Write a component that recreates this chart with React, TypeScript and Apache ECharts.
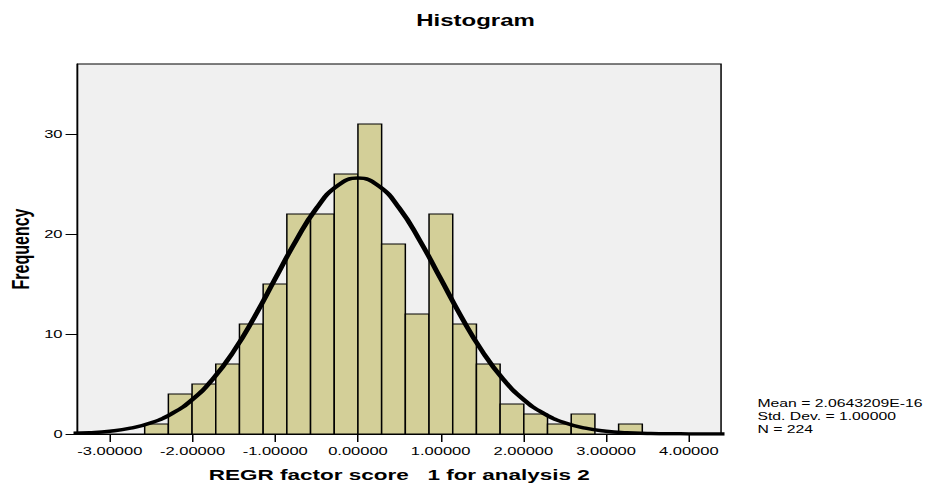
import React, { useEffect, useRef } from "react";
import * as echarts from "echarts";

// Histogram bins (bin width and first bin start)
const binWidth = 0.2865;
const firstBinStart = -2.5785;
const binCounts = [1, 4, 5, 7, 11, 15, 22, 22, 26, 31, 19, 12, 22, 11, 7, 3, 2, 1, 2, 0, 1];

// Normal curve
const curveX = [-3.5, -3.25, -3, -2.75, -2.5, -2.25, -2, -1.75, -1.5, -1.25, -1, -0.75, -0.5, -0.25, 0,
  0.25, 0.5, 0.75, 1, 1.25, 1.5, 1.75, 2, 2.25, 2.5, 2.75, 3, 3.25, 3.5, 3.75, 4, 4.25, 4.5];
const curveY = [0.06, 0.13, 0.28, 0.58, 1.12, 2.04, 3.46, 5.54, 8.31, 11.72, 15.53, 19.32, 22.59, 24.81, 25.6,
  24.81, 22.59, 19.32, 15.53, 11.72, 8.31, 5.54, 3.46, 2.04, 1.12, 0.58, 0.28, 0.13, 0.06, 0.02, 0.01, 0, 0];

const xTicks = [-3, -2, -1, 0, 1, 2, 3, 4];
const yTicks = [0, 10, 20, 30];
const xMin = -3.39;
const xMax = 4.39;
const yMax = 37;

const statsLines = ["Mean = 2.0643209E-16", "Std. Dev. = 1.00000", "N = 224"];

const FONT = "'Liberation Sans', Arial, Helvetica, sans-serif";

export default function App() {
  const ref = useRef<HTMLDivElement>(null);

  useEffect(() => {
    if (!ref.current) return;
    const chart = echarts.init(ref.current, undefined, { renderer: "svg" });

    const barData = binCounts.map((c, i) => [
      firstBinStart + i * binWidth,
      firstBinStart + (i + 1) * binWidth,
      c,
    ]);
    const lineData = curveX.map((x, i) => [x, curveY[i]]);

    chart.setOption({
      animation: false,
      grid: {
        left: 51.7,
        right: 139.3,
        top: 64,
        bottom: 49,
        show: true,
        backgroundColor: "#f0f0f0",
        borderColor: "#000",
        borderWidth: 1,
        containLabel: false,
        outerBoundsMode: "none",
      },
      graphic: [
        {
          type: "text",
          x: 317,
          y: 21,
          style: {
            text: "Histogram",
            textAlign: "center",
            textVerticalAlign: "middle",
            font: `bold 16px ${FONT}`,
            fill: "#000",
          },
        },
        {
          type: "text",
          x: 505,
          y: 397,
          style: {
            text: statsLines.join("\n"),
            font: `10.5px ${FONT}`,
            lineHeight: 13,
            fill: "#000",
          },
        },
      ],
      xAxis: {
        type: "value",
        min: xMin,
        max: xMax,
        name: "REGR factor score   1 for analysis 2",
        nameLocation: "middle",
        nameGap: 33,
        nameMoveOverlap: false,
        nameTextStyle: { fontFamily: FONT, fontWeight: "bold", fontSize: 15, color: "#000" },
        axisLine: { show: true, onZero: false, lineStyle: { color: "#000", width: 1 } },
        axisTick: { show: true, length: 8, customValues: xTicks, lineStyle: { color: "#000" } },
        axisLabel: {
          customValues: xTicks,
          formatter: (v: number) => v.toFixed(5),
          fontFamily: FONT,
          fontSize: 11,
          color: "#000",
          margin: 12,
        },
        splitLine: { show: false },
      },
      yAxis: {
        type: "value",
        min: 0,
        max: yMax,
        name: "Frequency",
        nameLocation: "middle",
        nameGap: 30,
        nameMoveOverlap: false,
        nameRotate: 90,
        nameTextStyle: { fontFamily: FONT, fontWeight: "bold", fontSize: 16, color: "#000" },
        axisLine: { show: true, onZero: false, lineStyle: { color: "#000", width: 1 } },
        axisTick: { show: true, length: 8, customValues: yTicks, lineStyle: { color: "#000" } },
        axisLabel: {
          customValues: yTicks,
          fontFamily: FONT,
          fontSize: 11,
          color: "#000",
          margin: 10,
        },
        splitLine: { show: false },
      },
      series: [
        {
          type: "custom",
          data: barData,
          encode: { x: [0, 1], y: 2 },
          clip: true,
          renderItem: (params: any, api: any) => {
            const count = api.value(2);
            if (!count) return null;
            const p0 = api.coord([api.value(0), count]);
            const p1 = api.coord([api.value(1), 0]);
            return {
              type: "rect",
              shape: { x: p0[0], y: p0[1], width: p1[0] - p0[0], height: p1[1] - p0[1] },
              style: { fill: "#d3cf98", stroke: "#000", lineWidth: 1 },
            };
          },
          z: 2,
        },
        {
          type: "line",
          data: lineData,
          smooth: true,
          showSymbol: false,
          symbol: "none",
          clip: true,
          lineStyle: { color: "#000", width: 3.5 },
          z: 3,
        },
      ],
    });

    return () => chart.dispose();
  }, []);

  return (
    <div
      ref={ref}
      style={{
        position: "absolute",
        left: 0,
        top: 0,
        width: 620,
        height: 483,
        transform: "scaleX(1.5)",
        transformOrigin: "0 0",
        background: "#fff",
      }}
    />
  );
}
